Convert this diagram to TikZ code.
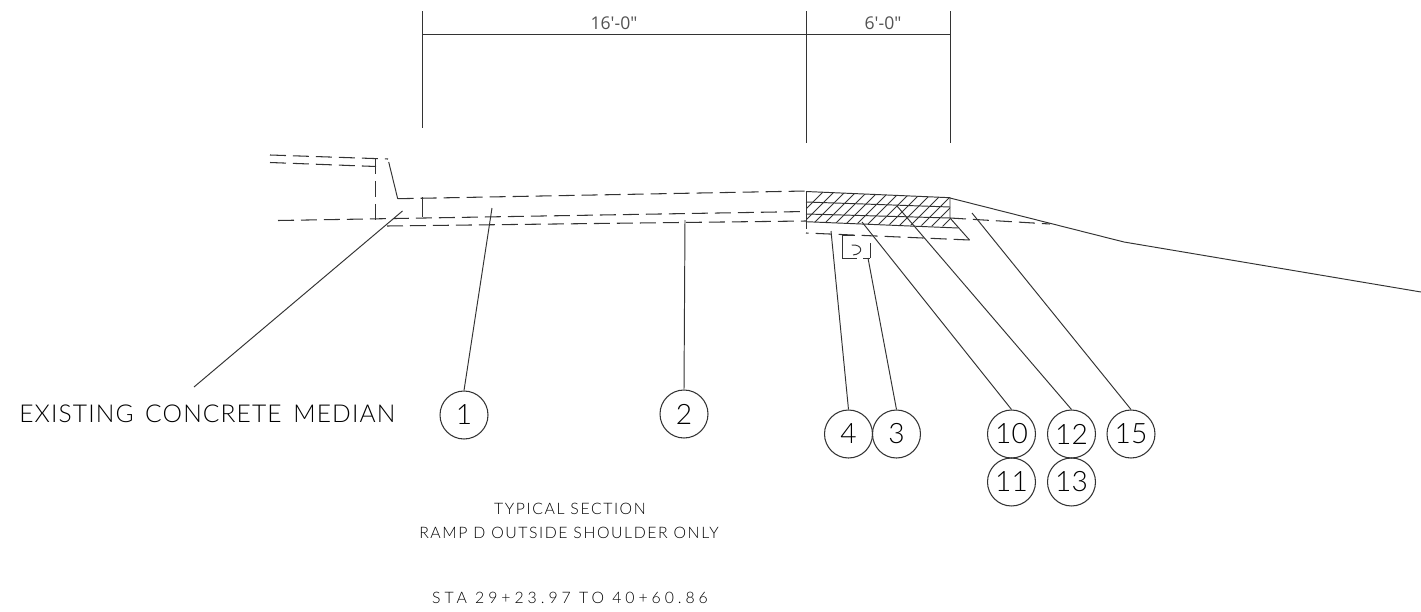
\documentclass[tikz,border=0pt]{standalone}
\usepackage{fontspec}
\setmainfont{Lato Light}
\newfontfamily\cadfont[LetterSpace=10]{Lato Light}
\newfontfamily\bigfont[LetterSpace=4.5,WordSpace=1.5]{Lato Light}
\newfontfamily\stafont[LetterSpace=25]{Lato Light}
\newfontfamily\dimfont{Open Sans}
\usepackage{tikz}
\usetikzlibrary{shapes}
\definecolor{ink}{HTML}{333333}
\tikzstyle{mark circle} = [circle, draw=ink, line width=0.6pt, minimum size=0.96cm, inner sep=0pt, font=\fontsize{16}{16}\selectfont, text=black]
\tikzstyle{leader} = [draw=ink, line width=0.55pt]
\tikzstyle{edge} = [draw=ink, line width=0.55pt]
\tikzstyle{hidden} = [draw=ink, line width=0.6pt, dash pattern=on 0.32cm off 0.14cm]
\tikzstyle{hatch} = [draw=ink, line width=0.45pt]
\tikzstyle{note} = [text=black, font=\cadfont\fontsize{9}{9}\selectfont, inner sep=0pt]
\tikzstyle{dim} = [text=ink!85, font=\dimfont\fontsize{10}{10}\selectfont, inner sep=0pt]
\begin{document}
\begin{tikzpicture}[x=0.02cm, y=-0.02cm, node distance=0.96cm]
		\useasboundingbox (0,0) rectangle (1421,612);
		% Place nodes
		\node [mark circle] (c1) at (464,415) {1};
		\node [mark circle] (c2) at (684,414) {2};
		\node [mark circle] (c4) at (848.5,434) {4};
		\node [mark circle, right of=c4] (c3) {3};
		\node [mark circle] (c10) at (1011.5,434) {10};
		\node [mark circle, below of=c10] (c11) {11};
		\node [mark circle] (c12) at (1071.5,434) {12};
		\node [mark circle, below of=c12] (c13) {13};
		\node [mark circle] (c15) at (1131,434) {15};
		\node [text=black, font=\bigfont\fontsize{14}{14}\selectfont, inner sep=0pt, anchor=west] (median) at (19,414) {EXISTING CONCRETE MEDIAN};
		\node [note] (title) at (570,509) {TYPICAL SECTION};
		\node [note] (ramp) at (569,533) {RAMP D OUTSIDE SHOULDER ONLY};
		\node [note, font=\stafont\fontsize{9}{9}\selectfont] (sta) at (570,598) {STA 29+23.97 TO 40+60.86};
		\node [dim] (dimA) at (614,23) {16'-0"};
		\node [dim] (dimB) at (883,23) {6'-0"};
		% Leader ends
		\coordinate (t1) at (492,208);
		\coordinate (t2) at (685,220);
		\coordinate (t4) at (831,231);
		\coordinate (t3) at (868,258);
		\coordinate (t10) at (862,222);
		\coordinate (t12) at (897,206);
		\coordinate (t15) at (972,213);
		\coordinate (tm) at (402.5,211);
		\coordinate (sm) at (194,387);
		% Draw edges
		\path [leader] (c1.north) -- (t1);
		\path [leader] (c2.north) -- (t2);
		\path [leader] (c4.north) -- (t4);
		\path [leader] (c3.north) -- (t3);
		\path [leader] (c10.north) -- (t10);
		\path [leader] (c12.north) -- (t12);
		\path [leader] (c15.north) -- (t15);
		\path [leader] (sm) -- (tm);
		% Dimension lines
		\draw [edge] (422,34) -- (950,34);
		\draw [edge] (422,11) -- (422,128);
		\draw [edge] (806,11) -- (806,143);
		\draw [edge] (950,11) -- (950,143);
		% Median
		\path [hidden] (270,155) -- (388,159);
		\path [hidden] (270,162.5) -- (376,166.5);
		\path [hidden] (375.7,158) -- (375.7,220);
		\path [edge] (388.7,162) -- (397.7,198.7);
		\path [edge] (422,197) -- (422,217);
		% Pavement
		\path [hidden] (397.7,198.7) -- (806,191);
		\path [hidden] (278,220.5) -- (806,211.5);
		\path [hidden] (387,226) -- (806,221);
		\path [hidden] (950,218) -- (1050,224);
		\path [hidden] (969.5,240) -- (806,233);
		% Shoulder
		\begin{scope}
			\clip (806,191.5) -- (950,197.7) -- (950,226.7) -- (806,221.7) -- cycle;
			\foreach \hx in {780,791,...,960}
				\draw [hatch] (\hx,235) -- (\hx+45,190);
		\end{scope}
		\path [edge] (806,191.5) -- (950,197.7) -- (950,218) -- (969.5,240);
		\path [edge] (806,191.5) -- (806,229);
		\path [edge] (806,221.7) -- (958,228);
		\path [edge] (806,202) -- (950,207);
		\path [edge] (806,214) -- (950,218);
		\path [edge] (950,198) -- (1124,242) -- (1421,292);
		% Small detail
		\draw [edge] (855,235.5) -- (842,235.5) -- (842,258) -- (857,258);
		\draw [edge] (870,243) -- (870,258);
		\draw [edge] (863,258) -- (870,258);
		\draw [edge] (851.7,245) .. controls (863,244) and (864,254) .. (853,255);
	\end{tikzpicture}
\end{document}
